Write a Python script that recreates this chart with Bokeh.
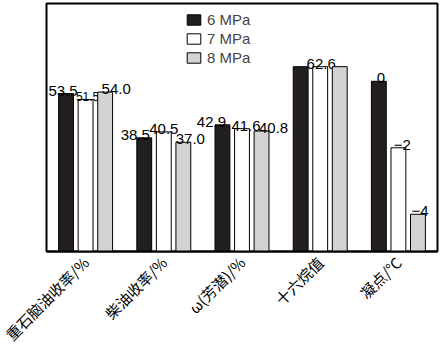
import math
from bokeh.plotting import figure
from bokeh.models import ColumnDataSource, Range1d, FactorRange, Legend, LegendItem
from bokeh.transform import dodge
from bokeh.core.properties import value
from bokeh.embed import file_html
from bokeh.resources import INLINE

categories = ["重石脑油收率/%", "柴油收率/%", "ω(芳潜)/%", "十六烷值", "凝点/℃"]
series_names = ["6 MPa", "7 MPa", "8 MPa"]
mpa6 = [53.5, 38.5, 42.9, 62.6, 0]
mpa7 = [51.5, 40.5, 41.6, 62.6, -2]
mpa8 = [54.0, 37.0, 40.8, 62.6, -4]
series = [mpa6, mpa7, mpa8]

# styles
colors = ["#231f20", "#ffffff", "#d1d3d4"]
offsets = [-0.25, 0.0, 0.25]
label_dx = [[-3, -9, -11, 0, 2], [2, 0, 4, 1, 4], [11, 7, 12, 0, 2]]
label_fs = [["15px"] * 5, ["12px", "15px", "15px", "15px", "15px"], ["15px"] * 5]
bar_w = 0.19
FP_LOW, FP_HIGH = -5.12, 2.34

p = figure(width=444, height=354,
           x_range=FactorRange(*categories, range_padding=0, factor_padding=0),
           y_range=Range1d(0, 84),
           output_backend="svg", toolbar_location=None,
           min_border_left=46, min_border_right=7, min_border_top=3, min_border_bottom=103,
           y_axis_location=None)
p.extra_y_ranges = {"fp": Range1d(FP_LOW, FP_HIGH)}
p.xgrid.grid_line_color = None
p.ygrid.grid_line_color = None
p.outline_line_color = "black"
p.outline_line_width = 2
p.background_fill_color = "white"
p.border_fill_color = "white"

main_cats = categories[:4]
fp_cats = categories[4:]

legend_items = []
for k in range(3):
    vals = series[k]
    src_main = ColumnDataSource(dict(x=main_cats, top=vals[:4]))
    r = p.vbar(x=dodge("x", offsets[k], range=p.x_range), top="top", bottom=0, width=bar_w,
               source=src_main, fill_color=colors[k], line_color="black", line_width=1)
    src_fp = ColumnDataSource(dict(x=fp_cats, top=vals[4:], bottom=[FP_LOW] * len(fp_cats)))
    p.vbar(x=dodge("x", offsets[k], range=p.x_range), top="top", bottom="bottom", width=bar_w,
           source=src_fp, fill_color=colors[k], line_color="black", line_width=1,
           y_range_name="fp")
    legend_items.append(LegendItem(label=series_names[k], renderers=[r]))

    # labels
    for rng, idxs in (("default", range(4)), ("fp", range(4, 5))):
        xs, ys, ts, dxs, fss = [], [], [], [], []
        for i in idxs:
            tie = mpa6[i] == mpa7[i] == mpa8[i]
            if tie and k != 1:
                continue
            v = vals[i]
            if rng == "fp":
                t = str(int(v)).replace("-", "\u2212")
            else:
                t = f"{v:.1f}"
            xs.append(categories[i]); ys.append(v); ts.append(t)
            dxs.append(label_dx[k][i]); fss.append(label_fs[k][i])
        if not xs:
            continue
        lsrc = ColumnDataSource(dict(x=xs, y=ys, t=ts, dx=dxs, fs=fss))
        kw = {} if rng == "default" else {"y_range_name": "fp"}
        p.text(x=dodge("x", offsets[k], range=p.x_range), y="y", text="t", source=lsrc,
               x_offset="dx", y_offset=-3, text_align="center", text_baseline="alphabetic",
               text_font=value("Liberation Sans"), text_font_size="fs", text_color="black", **kw)

legend = Legend(items=legend_items, location=(139, 185), glyph_width=17, glyph_height=13,
                label_height=13, label_text_font="Liberation Sans",
                label_text_font_size="15px", spacing=2, padding=0, margin=0,
                label_standoff=5, border_line_color=None, background_fill_alpha=0)
p.add_layout(legend)

ax = p.xaxis[0]
ax.axis_line_width = 2
ax.axis_line_color = "black"
ax.major_tick_line_color = None
ax.minor_tick_line_color = None
ax.major_label_orientation = math.pi / 4
ax.major_label_text_font = "Noto Sans CJK SC"
ax.major_label_text_font_size = "15px"
ax.major_label_text_color = "black"
ax.major_label_standoff = 2

open("out.html", "w").write(file_html(p, INLINE))
